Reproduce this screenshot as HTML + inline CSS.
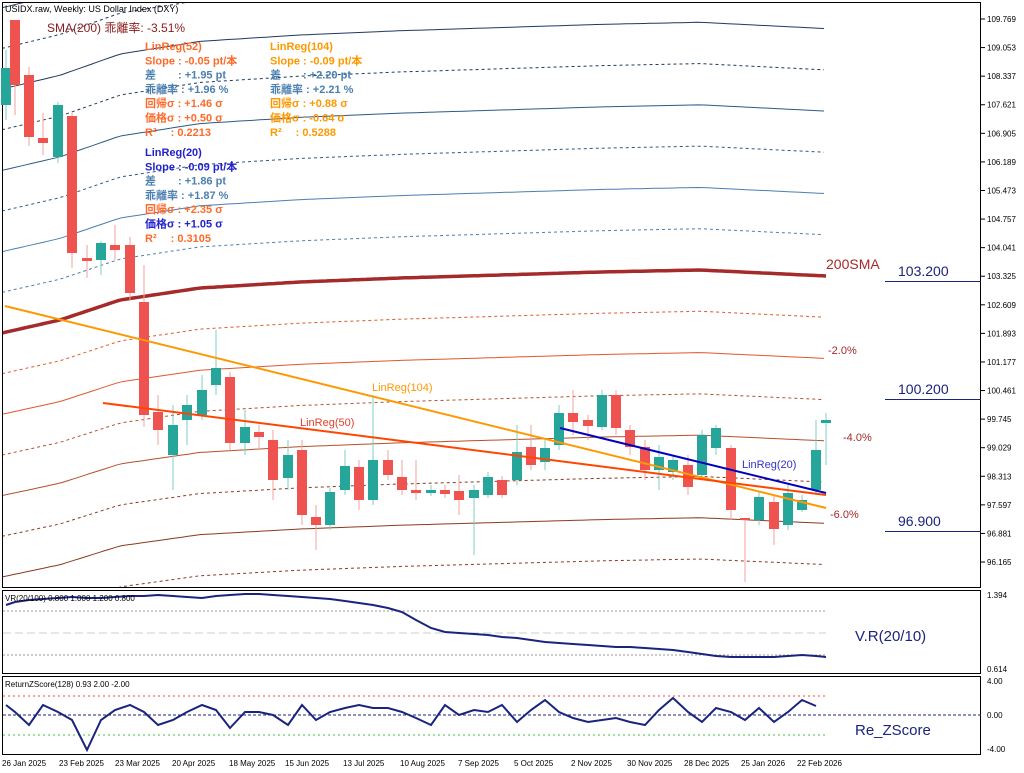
<!DOCTYPE html><html><head><meta charset="utf-8"><style>
body{margin:0;background:#fff;width:1024px;height:773px;overflow:hidden;font-family:"Liberation Sans","Noto Sans CJK JP",sans-serif}
svg{position:absolute;left:0;top:0}
</style></head><body>
<svg id="s" width="1024" height="773" xmlns="http://www.w3.org/2000/svg" font-family="Liberation Sans, Noto Sans CJK JP, sans-serif"></svg>
<script>
const s=document.getElementById('s');let h='';
function L(x1,y1,x2,y2,c,w,d){h+=`<line x1="${x1}" y1="${y1}" x2="${x2}" y2="${y2}" stroke="${c}" stroke-width="${w||1}" ${d?`stroke-dasharray="${d}"`:''}/>`}
function T(x,y,t,c,sz,fw,anch){h+=`<text x="${x}" y="${y}" fill="${c}" font-size="${sz||10}" ${fw?'font-weight="bold"':''} ${anch?`text-anchor="${anch}"`:''}>${t}</text>`}
function P(pts,c,w,d){h+=`<polyline fill="none" points="${pts.map(p=>p.join(',')).join(' ')}" stroke="${c}" stroke-width="${w||1}" ${d?`stroke-dasharray="${d}"`:''}/>`}
h+=`<defs><clipPath id="cm"><rect x="3" y="3" width="977" height="584"/></clipPath></defs>`;
// price axis
const lab=["109.769","109.053","108.337","107.621","106.905","106.189","105.473","104.757","104.041","103.325","102.609","101.893","101.177","100.461","99.745","99.029","98.313","97.597","96.881","96.165"];
lab.forEach((t,i)=>{let y=19+i*28.58;L(981,y,985,y,'#000');T(987,y+3,t,'#000',8)});
h+='<g clip-path="url(#cm)">';
function sma(x){const xs=[2,60,120,200,300,400,600,700,826],ys=[333,320,300,288,282,278,272,270,276];for(let i=0;i<xs.length-1;i++){if(x<=xs[i+1]){let t=(x-xs[i])/(xs[i+1]-xs[i]);return ys[i]+t*(ys[i+1]-ys[i])}}return 276}
const pp=39.9;function y2p(y){return 109.769-(y-19)/pp}function p2y(p){return 19+(109.769-p)*pp}
for(let k=-7;k<=8;k++){if(k==0)continue;let pts=[];for(let x=2;x<=826;x+=6){let p=y2p(sma(x))*(1+k/100);pts.push([x,p2y(p).toFixed(1)])}
 let dotted=Math.abs(k)%2==1;let c=k>0?(k>=5?'#1f3a5f':k>=3?'#2c5a85':'#4a7fb0'):(k>=-2?'#e2572b':k>=-4?'#b5502a':'#8a3a20');
 P(pts,c,1,dotted?'3,3':null)}
{let pts=[];for(let x=2;x<=826;x+=4)pts.push([x,sma(x).toFixed(1)]);P(pts,'#a52a2a',3.5)}
h+='</g>';
h+=`<rect x="2.5" y="2.5" width="978" height="585" fill="none" stroke="#000"/>`;
h+=`<rect x="2.5" y="590.5" width="978" height="83" fill="none" stroke="#000"/>`;
h+=`<rect x="2.5" y="676.5" width="978" height="78" fill="none" stroke="#000"/>`;
// candles
const C=[[6,'g',68,105,50,120],[15,'r',20,85,20,115],[29,'r',75,137,67,146],[43,'r',138,143,113,155],[58,'g',105,157,102,163],[72,'r',116,253,113,268],[87,'r',258,261,245,278],[101,'g',243,260,241,275],[115,'r',245,250,225,260],[130,'r',245,293,237,300],[144,'r',302,415,265,427],[158,'r',412,430,395,445],[173,'g',425,455,405,490],[187,'g',405,420,395,445],[202,'g',390,415,375,420],[216,'g',368,385,330,395],[230,'r',377,443,372,450],[245,'g',427,443,410,455],[259,'r',432,437,425,450],[273,'r',440,480,430,500],[288,'g',455,478,440,490],[302,'r',450,515,440,525],[316,'r',517,525,505,550],[330,'g',492,525,488,530],[345,'g',466,490,450,495],[359,'r',467,500,460,510],[373,'g',460,500,395,505],[388,'r',460,475,450,480],[402,'r',477,490,460,495],[416,'r',490,493,460,500],[431,'g',490,493,485,496],[445,'r',490,494,485,498],[459,'r',491,500,475,515],[474,'g',490,498,485,555],[488,'g',477,495,472,498],[502,'r',480,495,476,498],[517,'g',452,480,425,485],[531,'r',447,465,425,470],[545,'g',448,462,440,470],[559,'g',413,445,405,450],[573,'r',413,422,390,435],[588,'r',420,426,415,440],[602,'g',395,427,390,430],[616,'r',395,428,390,435],[630,'r',430,447,425,455],[645,'r',447,470,440,480],[659,'g',457,470,445,490],[673,'g',460,472,455,480],[688,'r',465,487,455,495],[702,'g',435,475,430,480],[716,'g',428,448,425,455],[731,'r',448,510,445,520],[745,'r',518,519,518,582],[759,'g',497,520,492,525],[774,'r',502,529,495,545],[788,'g',493,525,485,530],[802,'g',500,510,495,512],[816,'g',450,490,420,495],[826,'g',420,423,413,465]];
C.forEach(c=>{let col=c[1]=='g'?'#26a69a':'#ef5350';let wc=c[1]=='g'?'#7fcfc4':'#f4a09e';L(c[0],c[4],c[0],c[5],wc,1);h+=`<rect x="${c[0]-5}" y="${c[2]}" width="10" height="${Math.max(2,c[3]-c[2])}" fill="${col}"/>`});
L(5,306,826,508,'#ff9800',2);L(103,403,826,495,'#ff4500',2);L(560,428,826,493,'#0000c0',2);
T(372,391,'LinReg(104)','#ff9800',11);T(300,426,'LinReg(50)','#e2402b',11);T(742,468,'LinReg(20)','#3333cc',11);
T(826,269,'200SMA','#a52a2a',14);T(828,354,'-2.0%','#a52a2a',11);T(843,441,'-4.0%','#a52a2a',11);T(830,518,'-6.0%','#a52a2a',11);
[[281,'103.200'],[399,'100.200'],[531,'96.900']].forEach(a=>{L(885,a[0]+0.5,981,a[0]+0.5,'#1a237e');T(898,a[0]-5,a[1],'#1a237e',14)});
T(5,12,'USIDX.raw, Weekly:  US Dollar Index (DXY)','#000',9);
T(47,32,'SMA(200) 乖離率: -3.51%','#8b1a1a',12);
const o='#ff6a2a',sb='#4a7fb0',bl='#2222cc',or2='#ff9800';
[['LinReg(52)',o],['Slope : -0.05 pt/本',o],['差　　: +1.95 pt',sb],['乖離率 : +1.96 %',sb],['回帰σ : +1.46 σ',o],['価格σ : +0.50 σ',o],['R²　 : 0.2213',o]].forEach((a,i)=>T(145,50+i*14.3,a[0],a[1],11,1));
[['LinReg(104)',or2],['Slope : -0.09 pt/本',or2],['差　　: +2.20 pt',sb],['乖離率 : +2.21 %',sb],['回帰σ : +0.88 σ',or2],['価格σ : -0.64 σ',or2],['R²　 : 0.5288',or2]].forEach((a,i)=>T(270,50+i*14.3,a[0],a[1],11,1));
[['LinReg(20)',bl],['Slope : -0.09 pt/本',bl],['差　　: +1.86 pt',sb],['乖離率 : +1.87 %',sb],['回帰σ : +2.35 σ',o],['価格σ : +1.05 σ',bl],['R²　 : 0.3105',o]].forEach((a,i)=>T(145,156+i*14.3,a[0],a[1],11,1));
// VR
L(3,611,826,611,'#999',1,'2,2');L(3,633,826,633,'#ccc',1,'8,4');L(3,655,826,655,'#999',1,'2,2');
{let pts=[],vy=[605,602,600,599,598,597,598,598,597,596,596,595,596,597,598,596,595,594,594,595,596,597,598,599,601,603,605,608,612,620,628,632,633,634,635,637,638,640,642,643,644,645,646,647,647,648,649,650,652,654,656,657,657,657,657,656,655,656,657,656,655,656];for(let i=0;i<C.length;i++)pts.push([C[i][0],vy[i]]);P(pts,'#1a237e',2)}
T(5,601,'VR(20/100) 0.800 1.000 1.200 0.800','#000',8);T(855,641,'V.R(20/10)','#1a237e',15);
T(987,598,'1.394','#000',8);T(987,672,'0.614','#000',8);
// zscore
L(3,696,826,696,'#ff4040',1,'2,3');L(3,715,981,715,'#1a237e',1,'3,2');L(3,735,826,735,'#40c040',1,'2,3');
{let zy=[705,712,725,705,712,720,750,720,710,705,712,725,720,712,705,710,728,712,712,715,725,705,720,712,708,705,708,708,712,718,725,705,715,710,712,705,722,710,700,712,718,722,720,718,722,725,710,698,712,722,708,712,720,708,722,712,700,706];let pts=[];for(let i=0;i<C.length&&i<zy.length;i++)pts.push([C[i][0],zy[i]]);P(pts,'#1a237e',2)}
T(5,687,'ReturnZScore(128) 0.93 2.00 -2.00','#000',8);T(855,735,'Re_ZScore','#1a237e',15);
T(987,684,'4.00','#000',8);T(987,718,'0.00','#000',8);T(987,752,'-4.00','#000',8);
[[2,'26 Jan 2025'],[59,'23 Feb 2025'],[115,'23 Mar 2025'],[172,'20 Apr 2025'],[229,'18 May 2025'],[285,'15 Jun 2025'],[343,'13 Jul 2025'],[400,'10 Aug 2025'],[458,'7 Sep 2025'],[514,'5 Oct 2025'],[571,'2 Nov 2025'],[627,'30 Nov 2025'],[684,'28 Dec 2025'],[741,'25 Jan 2026'],[797,'22 Feb 2026']].forEach(a=>T(a[0],766,a[1],'#000',8));
s.innerHTML=h;
</script></body></html>
